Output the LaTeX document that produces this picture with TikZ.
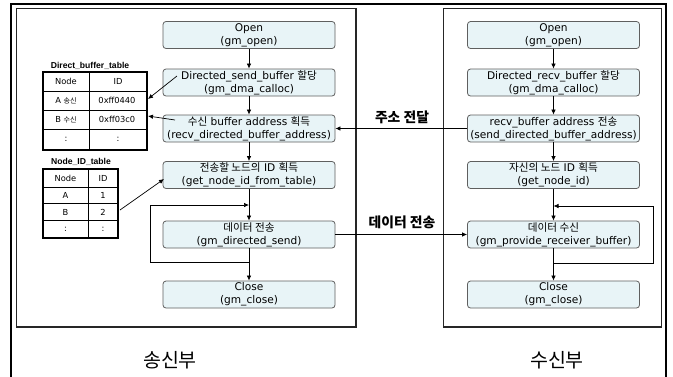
\documentclass[tikz,border=0pt]{standalone}
\usepackage{fontspec}
\setmainfont{DejaVu Sans}
\newfontfamily\krf{Noto Sans CJK KR}[Scale=0.85]
\newfontfamily\krfull{Noto Sans CJK KR}
\newcommand{\kr}[1]{{\krf #1}}
\newcommand{\kh}[1]{{\krfull #1}}
\usetikzlibrary{arrows.meta,calc}
\definecolor{boxfill}{RGB}{232,244,247}
\definecolor{boxline}{RGB}{95,95,95}
\begin{document}
\begin{tikzpicture}[x=1pt,y=-1pt,
  flow/.style={draw=boxline, line width=0.8pt, fill=boxfill, rounded corners=3pt,
    minimum width=172pt, minimum height=27pt, inner sep=0pt, align=center,
    font=\fontsize{10.6}{13}\selectfont},
  arr/.style={-{Latex[length=5pt,width=4.5pt]}, line width=0.7pt},
  ttl/.style={font=\fontspec{Liberation Sans}\bfseries\fontsize{8.6}{10}\selectfont, inner sep=0pt},
  cell/.style={font=\fontsize{8.3}{9}\selectfont, inner sep=0pt},
  lbl/.style={font=\krfull\bfseries\fontsize{13.8}{15}\selectfont, inner sep=0pt},
  part/.style={font=\krfull\fontsize{19.5}{21}\selectfont, inner sep=0pt},
  panel/.style={draw=black!85, line width=1.3pt}]
\useasboundingbox (0,0) rectangle (673,376);
\clip (0,0) rectangle (673,376);
\fill[white] (0,0) rectangle (673,376);
% outer frame
\draw[line width=2.5pt] (11,390) -- (11,4) -- (666,4) -- (666,390);
% panels
\draw[panel] (16.5,8.5) rectangle (356,327);
\draw[panel] (443.5,8.5) rectangle (661.5,327);

% left flow
\node[flow] (L1) at (249,35) {Open\\(gm\_open)};
\node[flow] (L2) at (249,82.5) {Directed\_send\_buffer \kh{할당}\\(gm\_dma\_calloc)};
\node[flow] (L3) at (249,128.5) {\kh{수신} buffer address \kh{획득}\\(recv\_directed\_buffer\_address)};
\node[flow] (L4) at (249,175) {\kh{전송할 노드의} ID \kh{획득}\\(get\_node\_id\_from\_table)};
\node[flow] (L5) at (249,234.5) {\kh{데이터 전송}\\(gm\_directed\_send)};
\node[flow] (L6) at (249,294.5) {Close\\(gm\_close)};

% right flow
\node[flow] (R1) at (553.5,35) {Open\\(gm\_open)};
\node[flow] (R2) at (553.5,82.5) {Directed\_recv\_buffer \kh{할당}\\(gm\_dma\_calloc)};
\node[flow] (R3) at (553.5,128.5) {recv\_buffer address \kh{전송}\\(send\_directed\_buffer\_address)};
\node[flow] (R4) at (553.5,175) {\kh{자신의 노드} ID \kh{획득}\\(get\_node\_id)};
\node[flow] (R5) at (553.5,234.5) {\kh{데이터 수신}\\(gm\_provide\_receiver\_buffer)};
\node[flow] (R6) at (553.5,294.5) {Close\\(gm\_close)};

% vertical arrows
\foreach \a/\b in {L1/L2,L2/L3,L3/L4,L4/L5,L5/L6,R1/R2,R2/R3,R3/R4,R4/R5,R5/R6}
  \draw[arr] (\a.south) -- (\b.north);

% loops
\coordinate (jl) at (249,262);
\coordinate (ml) at (249,205);
\draw[arr] (jl) -- (150,262) -- (150,205) -- (ml);
\coordinate (jr) at (553.5,263);
\coordinate (mr) at (553.5,206);
\draw[arr] (jr) -- (653,263) -- (653,206) -- (mr);

% horizontal arrows
\draw[arr] (R3.west) -- (L3.east);
\node[lbl] (lab1) at (402,117) {주소 전달};
\draw[arr] (L5.east) -- (R5.west);
\node[lbl] (lab2) at (402,222) {데이터 전송};

% Direct_buffer_table
\node[ttl] (t1) at (90,66) {Direct\_buffer\_table};
\draw[line width=0.5pt] (43,91)--(147,91) (43,110)--(147,110) (43,129)--(147,129) (89,72)--(89,150);
\draw[line width=2pt] (43,72) rectangle (147,150);
\node[cell] (d11) at (66,81.5) {Node};
\node[cell] (d12) at (118,81.5) {ID};
\node[cell] (d21) at (66,100.5) {A \kr{송신}};
\node[cell] (d22) at (117,100.5) {0xff0440};
\node[cell] (d31) at (66,119.5) {B \kr{수신}};
\node[cell] (d32) at (117,119.5) {0xff03c0};
\node[cell] (d41) at (66,139.5) {:};
\node[cell] (d42) at (118,139.5) {:};

% Node_ID_table
\node[ttl] (t2) at (81,162) {Node\_ID\_table};
\draw[line width=0.5pt] (43,187)--(118,187) (43,203.5)--(118,203.5) (43,220)--(118,220) (88,169)--(88,238);
\draw[line width=2pt] (43,169) rectangle (118,238);
\node[cell] (n11) at (65.5,178) {Node};
\node[cell] (n12) at (103,178) {ID};
\node[cell] (n21) at (65.5,195.5) {A};
\node[cell] (n22) at (103,195.5) {1};
\node[cell] (n31) at (65.5,212) {B};
\node[cell] (n32) at (103,212) {2};
\node[cell] (n41) at (65.5,229) {:};
\node[cell] (n42) at (103,229) {:};

% table connectors
\coordinate (s1) at (177,76);
\coordinate (tA) at (148,99);
\draw[arr] (s1) -- (tA);
\coordinate (s2) at (175,120);
\coordinate (tB) at (148,116);
\draw[arr] (s2) -- (tB);
\coordinate (nB) at (120,210);
\coordinate (e4) at (164,179);
\draw[arr] (nB) -- (e4);

% part labels
\node[part] (p1) at (170,360) {송신부};
\node[part] (p2) at (557,360) {수신부};
\end{tikzpicture}
\end{document}
